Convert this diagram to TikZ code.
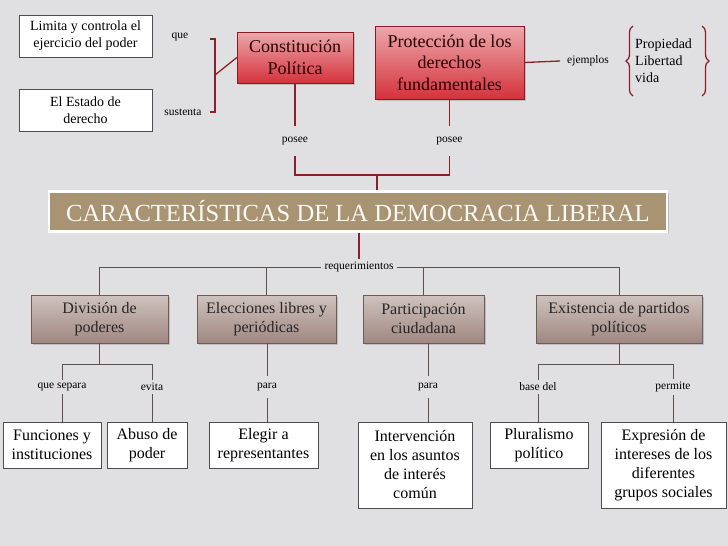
\documentclass[tikz,border=0pt]{standalone}
\usepackage{fontspec}
\setmainfont{Liberation Serif}
\usetikzlibrary{positioning, shadows, decorations.pathreplacing, calc}
\definecolor{paper}{HTML}{E0E0E3}
\definecolor{linkred}{HTML}{8E1F26}
\definecolor{linkgray}{HTML}{5E504C}
\definecolor{redtop}{HTML}{ECA8AB}
\definecolor{redbot}{HTML}{D5323C}
\definecolor{redline}{HTML}{8A1A20}
\definecolor{browntop}{HTML}{CFC2BE}
\definecolor{brownbot}{HTML}{A08781}
\definecolor{brownline}{HTML}{6E5C57}
\definecolor{titlefill}{HTML}{A89473}

\begin{document}
\begin{tikzpicture}[
      x=1pt, y=-1pt,
      every node/.style={font=\fontsize{11.5}{13}\selectfont},
      tag/.style={inner xsep=3pt, inner ysep=3pt},
      redlink/.style={draw=linkred, line width=1.3pt},
      graylink/.style={draw=linkgray, line width=0.9pt},
      note/.style={draw=gray!60!black, fill=white, align=center, inner sep=0pt,
                   font=\fontsize{14}{17}\selectfont},
      hot/.style={draw=redline, top color=redtop, bottom color=redbot, align=center,
                  inner sep=0pt, text=black!85!red, font=\fontsize{18}{21.5}\selectfont,
                  drop shadow={opacity=0.35, shadow xshift=1.5pt, shadow yshift=-1.5pt}},
      trait/.style={draw=brownline, top color=browntop, bottom color=brownbot, align=center,
                    inner sep=0pt, minimum height=48pt, text=black!85,
                    font=\fontsize{16}{19}\selectfont,
                    drop shadow={opacity=0.35, shadow xshift=1.5pt, shadow yshift=-1.5pt}},
      leaf/.style={draw=gray!60!black, fill=white, align=center, inner sep=0pt,
                   font=\fontsize{16}{19}\selectfont},
    ]
    \fill[paper] (0,0) rectangle (728,546);
    \useasboundingbox (0,0) rectangle (728,546);

    % top left
    \node[note, minimum width=133pt, minimum height=42pt] (limita) at (85.5,36)
      {Limita y controla el\\ejercicio del poder};
    \node[note, minimum width=133pt, minimum height=42pt] (estado) at (85.5,110)
      {El Estado de\\derecho};
    \node[tag] (que) at (180,37) {que};
    \node[tag] (sustenta) at (183,112) {sustenta};
    \coordinate (brtop) at (215,39);
    \coordinate (brbot) at (215,112);
    \coordinate (brmid) at (215,75);

    % red boxes
    \node[hot, minimum width=116pt, minimum height=51pt] (const) at (295,57.5)
      {Constitución\\Política};
    \node[hot, minimum width=149pt, minimum height=73pt] (prot) at (449.5,62.5)
      {Protección de los\\derechos\\fundamentales};
    \node[tag, inner xsep=7pt] (ejemplos) at (588,61) {ejemplos};
    \node[anchor=west, align=left, inner sep=0pt, font=\fontsize{14}{17}\selectfont]
      (lista) at (635,61) {Propiedad\\Libertad\\vida};

    \draw[redlink] ($(brtop)+(-5,0)$) -- (brtop) -- (brbot) -- ($(brbot)+(-5,0)$);
    \draw[redlink] (brmid) -- (const.west);
    \draw[redlink] (prot.east) -- (ejemplos.west);
    \draw[redlink, decorate, decoration={brace, amplitude=7pt}] (633,96) -- (633,26);
    \draw[redlink, decorate, decoration={brace, amplitude=7pt}] (702,26) -- (702,96);

    % posee
    \node[tag, inner ysep=11pt] (posA) at (295,141) {posee};
    \node[tag, inner ysep=11pt] (posB) at (449.5,141) {posee};
    \coordinate (topjoin) at (377,175);
    \draw[redlink] (const.south) -- (posA.north);
    \draw[redlink] (prot.south) -- (posB.north);
    \draw[redlink] (posA.south) -- (posA.south |- topjoin) -- (posB.south |- topjoin) -- (posB.south);

    % title
    \node[fill=titlefill, draw=white, line width=2.5pt, minimum width=618pt, minimum height=40pt,
          inner sep=0pt, text=white!94!titlefill, font=\fontsize{24.6}{27}\selectfont,
          drop shadow={opacity=0.35, shadow xshift=1.5pt, shadow yshift=-1.5pt}]
      (title) at (358,211.5) {CARACTERÍSTICAS DE LA DEMOCRACIA LIBERAL};
    \draw[redlink] (topjoin) -- (topjoin |- title.north);

    \node[tag] (req) at (359,267) {requerimientos};
    \draw[redlink] (req.north |- title.south) -- (req.north);

    % characteristics
    \node[trait, minimum width=137pt] (div) at (99.5,319) {División de\\poderes};
    \node[trait, minimum width=139pt] (elec) at (266.5,319) {Elecciones libres y\\periódicas};
    \node[trait, minimum width=121pt] (part) at (423.5,319) {Participación\\ciudadana};
    \node[trait, minimum width=166pt] (exist) at (619,319) {Existencia de partidos\\políticos};

    \draw[graylink] (req.west) -- (req.west -| div.north) -- (div.north);
    \draw[graylink] (req.east) -- (req.east -| exist.north) -- (exist.north);
    \draw[graylink] (req.west -| elec.north) -- (elec.north);
    \draw[graylink] (req.east -| part.north) -- (part.north);

    % links below
    \node[tag] (sep) at (62,387) {que separa};
    \node[tag] (evita) at (152,387) {evita};
    \node[tag, inner ysep=7pt] (paraA) at (267,387) {para};
    \node[tag, inner ysep=7pt] (paraB) at (428,387) {para};
    \node[tag] (base) at (538,387) {base del};
    \node[tag] (permite) at (673,387) {permite};

    % leaves
    \node[leaf, minimum width=98pt, minimum height=46pt] (func) at (52,445)
      {Funciones y\\instituciones};
    \node[leaf, minimum width=80pt, minimum height=46pt] (abuso) at (147,445)
      {Abuso de\\poder};
    \node[leaf, minimum width=109pt, minimum height=46pt] (elegir) at (263.5,445)
      {Elegir a\\representantes};
    \node[leaf, minimum width=114pt, minimum height=86pt] (interv) at (415,465)
      {Intervención\\en los asuntos\\de interés\\común};
    \node[leaf, minimum width=98pt, minimum height=46pt] (plural) at (539,445)
      {Pluralismo\\político};
    \node[leaf, minimum width=125pt, minimum height=86pt] (expr) at (663.5,465)
      {Expresión de\\intereses de los\\diferentes\\grupos sociales};

    \coordinate (divjoin) at ($(div.south)+(0,21)$);
    \coordinate (existjoin) at ($(exist.south)+(0,21)$);
    \draw[graylink] (div.south) -- (divjoin);
    \draw[graylink] (sep.north |- divjoin) -- (evita.north |- divjoin);
    \draw[graylink] (sep.north |- divjoin) -- (sep.north);
    \draw[graylink] (evita.north |- divjoin) -- (evita.north);
    \draw[graylink] (exist.south) -- (existjoin);
    \draw[graylink] (base.north |- existjoin) -- (permite.north |- existjoin);
    \draw[graylink] (base.north |- existjoin) -- (base.north);
    \draw[graylink] (permite.north |- existjoin) -- (permite.north);
    \draw[graylink] (paraA.north |- elec.south) -- (paraA.north);
    \draw[graylink] (paraB.north |- part.south) -- (paraB.north);

    \draw[graylink] (sep.south) -- (sep.south |- func.north);
    \draw[graylink] (evita.south) -- (evita.south |- abuso.north);
    \draw[graylink] (paraA.south) -- (paraA.south |- elegir.north);
    \draw[graylink] (paraB.south) -- (paraB.south |- interv.north);
    \draw[graylink] (base.south) -- (base.south |- plural.north);
    \draw[graylink] (permite.south) -- (permite.south |- expr.north);
  \end{tikzpicture}
\end{document}
